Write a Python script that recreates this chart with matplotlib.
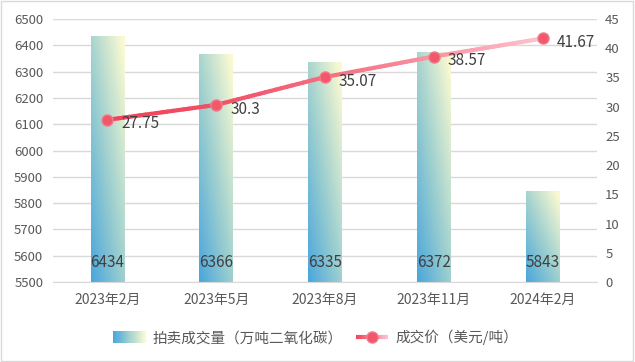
import numpy as np
import matplotlib
matplotlib.use("Agg")
import matplotlib.pyplot as plt
from matplotlib.colors import to_rgb
from matplotlib.patches import Rectangle
from matplotlib.lines import Line2D
from matplotlib.collections import LineCollection
from matplotlib.legend_handler import HandlerBase

plt.rcParams['font.family'] = ['Noto Sans CJK SC', 'DejaVu Sans']

categories = ["2023年2月", "2023年5月", "2023年8月", "2023年11月", "2024年2月"]
volume = [6434, 6366, 6335, 6372, 5843]
price = [27.75, 30.3, 35.07, 38.57, 41.67]
price_labels = ["27.75", "30.3", "35.07", "38.57", "41.67"]
bar_name = "拍卖成交量（万吨二氧化碳）"
line_name = "成交价（美元/吨）"

TXT = "#595959"
GRID = "#d9d9d9"
c_blue = np.array(to_rgb("#4aa6dc"))
c_teal = np.array(to_rgb("#9fd0cf"))
c_yel = np.array(to_rgb("#f8f9d2"))
line_c0 = np.array(to_rgb("#f0435a"))
line_c1 = np.array(to_rgb("#fdc3cf"))

fig = plt.figure(figsize=(6.35, 3.62), dpi=100)
ax = fig.add_axes([0.0835, 0.221, 0.8565, 0.7265])
ax2 = ax.twinx()

YMIN, YMAX = 5500, 6500
x = np.arange(len(categories))
bars = ax.bar(x, volume, width=0.31, color="none", zorder=2)
ax.set_xlim(-0.5, len(categories) - 0.5)
ax.set_ylim(YMIN, YMAX)

# gradient image for bars (bottom-left blue -> top-right pale yellow)
n = 64
u = np.linspace(0, 1, n)[None, :]
v = np.linspace(0, 1, n)[:, None]
t = np.clip(0.5 * u + 0.55 * v, 0, 1)
img = np.zeros((n, n, 3))
for k in range(3):
    lo = c_blue[k] + (c_teal[k] - c_blue[k]) * np.clip(t / 0.5, 0, 1)
    hi = c_teal[k] + (c_yel[k] - c_teal[k]) * np.clip((t - 0.5) / 0.5, 0, 1)
    img[..., k] = np.where(t < 0.5, lo, hi)

for b in bars:
    x0 = b.get_x()
    w = b.get_width()
    y0 = max(b.get_y(), YMIN)
    y1 = b.get_y() + b.get_height()
    ax.imshow(img, extent=[x0, x0 + w, y0, y1], origin="lower",
              aspect="auto", zorder=2, interpolation="bilinear")

ax.set_xlim(-0.5, len(categories) - 0.5)
ax.set_ylim(YMIN, YMAX)
ax.set_yticks(np.arange(5500, 6501, 100))
ax.set_xticks(x)
ax.set_xticklabels(categories)
ax.grid(axis="y", color=GRID, linewidth=1, zorder=0)
ax.set_axisbelow(True)
for s in ["top", "left", "right"]:
    ax.spines[s].set_visible(False)
ax.spines["bottom"].set_color(GRID)
ax.tick_params(axis="both", length=0, colors=TXT, labelsize=9.5)
ax.tick_params(axis="y", pad=7)
ax.tick_params(axis="x", pad=8, labelsize=10)

for xi, val in zip(x, volume):
    ax.annotate(str(val), (xi, YMIN), xytext=(0, 14), textcoords="offset points",
                ha="center", va="center", fontsize=11, color="#404040", zorder=5)

# price line with gradient
ax2.set_ylim(0, 45)
ax2.set_yticks(np.arange(0, 46, 5))
for s in ["top", "left", "right", "bottom"]:
    ax2.spines[s].set_visible(False)
ax2.tick_params(axis="y", length=0, colors=TXT, labelsize=9.5, pad=6)

xs = np.array(x, dtype=float)
ys = np.array(price)
sub = []
cols = []
m = 20
for i in range(len(xs) - 1):
    for j in range(m):
        a, bb = j / m, (j + 1) / m
        p0 = (xs[i] + (xs[i + 1] - xs[i]) * a, ys[i] + (ys[i + 1] - ys[i]) * a)
        p1 = (xs[i] + (xs[i + 1] - xs[i]) * bb, ys[i] + (ys[i + 1] - ys[i]) * bb)
        sub.append([p0, p1])
        f = (i + (a + bb) / 2) / (len(xs) - 1)
        f = f ** 1.6
        cols.append(tuple(line_c0 + (line_c1 - line_c0) * f))
lc = LineCollection(sub, colors=cols, linewidths=3, capstyle="round", zorder=3)
ax2.add_collection(lc)
ax2.plot(xs, ys, linestyle="none", marker="o", markersize=8,
         markerfacecolor="#f2576c", markeredgecolor="#f47b8c", markeredgewidth=1, zorder=4)
for xi, yi, lab in zip(xs, ys, price_labels):
    ax2.annotate(lab, (xi, yi), xytext=(10, -3), textcoords="offset points",
                 ha="left", va="center", fontsize=11, color="#404040", zorder=5)


class GradPatchHandler(HandlerBase):
    def create_artists(self, legend, orig_handle, xdescent, ydescent, width, height, fontsize, trans):
        arts = []
        N = 30
        for i in range(N):
            f = i / (N - 1)
            if f < 0.5:
                c = c_blue + (c_teal - c_blue) * (f / 0.5)
            else:
                c = c_teal + (c_yel - c_teal) * ((f - 0.5) / 0.5)
            r = Rectangle((-xdescent + width * i / N, -ydescent), width / N + 0.3, height,
                          facecolor=tuple(c), edgecolor="none", transform=trans)
            arts.append(r)
        return arts


class GradLineHandler(HandlerBase):
    def create_artists(self, legend, orig_handle, xdescent, ydescent, width, height, fontsize, trans):
        arts = []
        N = 20
        yc = height / 2 - ydescent
        for i in range(N):
            f = (i + 0.5) / N
            c = line_c0 + (line_c1 - line_c0) * f
            l = Line2D([-xdescent + width * i / N, -xdescent + width * (i + 1) / N], [yc, yc],
                       color=tuple(c), linewidth=3, solid_capstyle="butt", transform=trans)
            arts.append(l)
        mk = Line2D([-xdescent + width / 2], [yc], marker="o", markersize=8, linestyle="none",
                    markerfacecolor="#f2576c", markeredgecolor="#f47b8c", transform=trans)
        arts.append(mk)
        return arts


h1 = Rectangle((0, 0), 1, 1)
h2 = Line2D([], [])
fig.legend([h1, h2], [bar_name, line_name], loc="center", bbox_to_anchor=(0.497, 0.068),
           ncol=2, frameon=False, fontsize=10.5, labelcolor=TXT, handlelength=2.2,
           handleheight=0.8, columnspacing=0.9, handletextpad=0.5,
           handler_map={Rectangle: GradPatchHandler(), Line2D: GradLineHandler()})

fig.add_artist(Rectangle((0.002, 0.003), 0.995, 0.993, transform=fig.transFigure,
                         fill=False, edgecolor=GRID, linewidth=1))

fig.savefig("out.png", dpi=100)
